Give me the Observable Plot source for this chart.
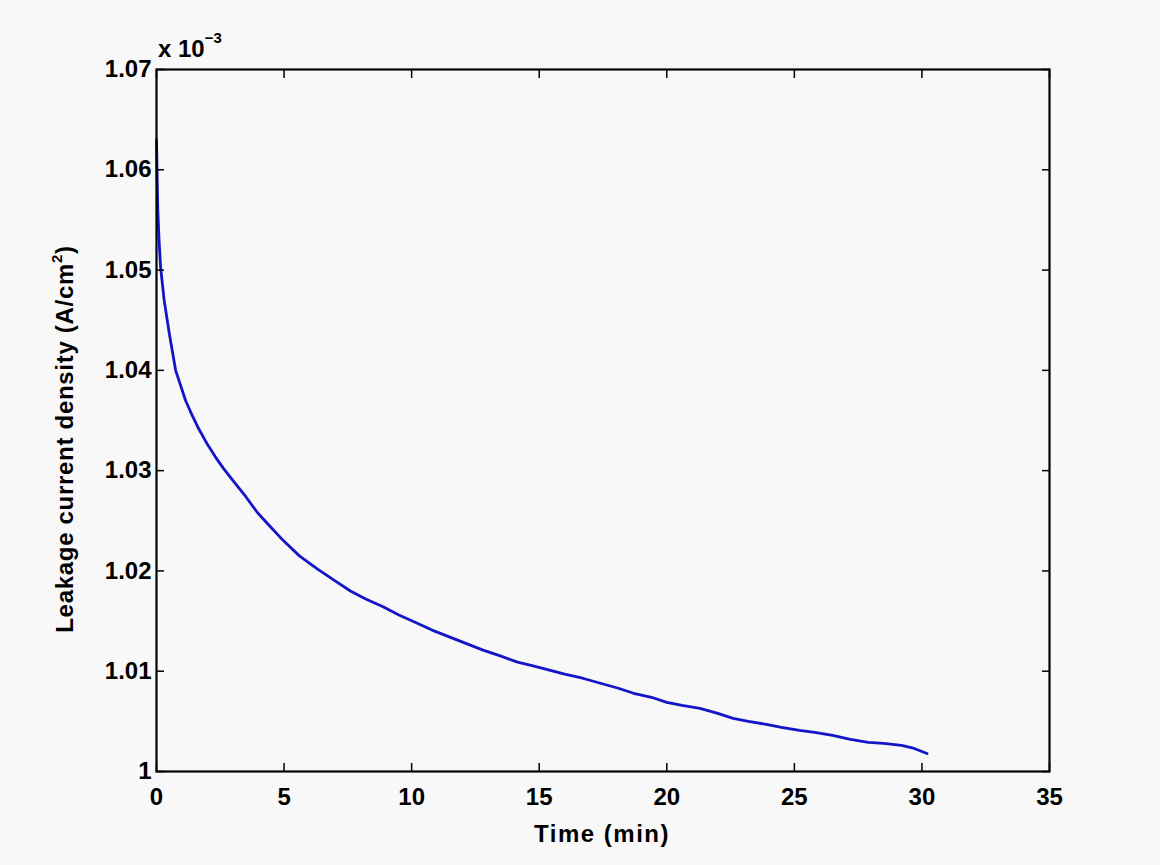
<!DOCTYPE html>
<html>
<head>
<meta charset="utf-8">
<script src="https://cdn.jsdelivr.net/npm/d3@7"></script>
<script src="https://cdn.jsdelivr.net/npm/@observablehq/plot@0.6"></script>
<style>
  html, body { margin: 0; padding: 0; background: #f8f8f8; }
  #chart { width: 1160px; height: 865px; }
</style>
</head>
<body>
<div id="chart"></div>
<script>
// Time (min)
const timeMin = [0, 0.02, 0.05, 0.1, 0.16, 0.3, 0.5, 0.75, 1.14, 1.4, 1.65, 2.0, 2.3, 2.63, 3.0, 3.5, 3.96, 4.5, 4.98, 5.6, 6.3, 7.0, 7.6, 8.2, 8.9, 9.5, 10.2, 10.8, 11.5, 12.1, 12.8, 13.5, 14.15, 14.8, 15.4, 16.0, 16.7, 17.4, 18.1, 18.7, 19.4, 20.0, 20.6, 21.3, 22.0, 22.6, 23.2, 23.9, 24.5, 25.2, 25.8, 26.5, 27.2, 27.9, 28.5, 29.2, 29.7, 30.2];
// Leakage current density (x 10^-3 A/cm^2)
const density = [1.0630, 1.0600, 1.0560, 1.0530, 1.0503, 1.0470, 1.0437, 1.0400, 1.0370, 1.0355, 1.0342, 1.0326, 1.0314, 1.0302, 1.0290, 1.0274, 1.0258, 1.0243, 1.0230, 1.0215, 1.0202, 1.0190, 1.0180, 1.0172, 1.0164, 1.0156, 1.0148, 1.0141, 1.0134, 1.0128, 1.0121, 1.0115, 1.0109, 1.0105, 1.0101, 1.0097, 1.0093, 1.0088, 1.0083, 1.0078, 1.0074, 1.0069, 1.0066, 1.0063, 1.0058, 1.0053, 1.0050, 1.0047, 1.0044, 1.0041, 1.0039, 1.0036, 1.0032, 1.0029, 1.0028, 1.0026, 1.0023, 1.0018];
const xTicks = [0, 5, 10, 15, 20, 25, 30, 35];
const yTicks = [1.00, 1.01, 1.02, 1.03, 1.04, 1.05, 1.06, 1.07];

const data = timeMin.map((t, i) => ({t, v: density[i]}));
const yFmt = d => d === 1 ? "1" : d.toFixed(2);
const tickFont = 24;

const plot = Plot.plot({
  width: 1160,
  height: 865,
  marginLeft: 156,
  marginRight: 111,
  marginTop: 69,
  marginBottom: 94,
  style: {
    background: "#f8f8f8",
    fontFamily: "'Liberation Sans', Arial, sans-serif",
    fontWeight: "bold",
    color: "#000"
  },
  x: {domain: [0, 35]},
  y: {domain: [1.0, 1.07]},
  marks: [
    Plot.line(data, {x: "t", y: "v", stroke: "#1414c8", strokeWidth: 2.8}),
    Plot.axisX({anchor: "bottom", ticks: xTicks, tickSize: -8, tickPadding: 24, fontSize: tickFont, label: null, stroke: "#000", strokeWidth: 1.5}),
    Plot.axisX({anchor: "top", ticks: xTicks, tickSize: -8, tickFormat: () => "", label: null, stroke: "#000", strokeWidth: 1.5}),
    Plot.axisY({anchor: "left", ticks: yTicks, tickSize: -8, tickPadding: 13, fontSize: tickFont, tickFormat: yFmt, label: null, stroke: "#000", strokeWidth: 1.5}),
    Plot.axisY({anchor: "right", ticks: yTicks, tickSize: -8, tickFormat: () => "", label: null, stroke: "#000", strokeWidth: 1.5}),
    Plot.frame({stroke: "#000", strokeWidth: 2.2})
  ]
});

document.getElementById("chart").appendChild(plot);

const svg = d3.select(plot);
const font = "'Liberation Sans', Arial, sans-serif";

// x-axis title
svg.append("text")
  .attr("x", 602).attr("y", 842)
  .attr("text-anchor", "middle")
  .attr("font-family", font).attr("font-weight", "bold").attr("font-size", 24)
  .attr("letter-spacing", 1.5)
  .text("Time (min)");

// y-axis title with superscript
const yl = svg.append("text")
  .attr("transform", "translate(73,439) rotate(-90)")
  .attr("text-anchor", "middle")
  .attr("font-family", font).attr("font-weight", "bold").attr("font-size", 24)
  .attr("letter-spacing", 0.7);
yl.append("tspan").text("Leakage current density (A/cm");
yl.append("tspan").attr("font-size", 15).attr("dy", -11).text("2");
yl.append("tspan").attr("dy", 11).text(")");

// exponent note
const ex = svg.append("text")
  .attr("x", 158).attr("y", 57)
  .attr("text-anchor", "start")
  .attr("font-family", font).attr("font-weight", "bold").attr("font-size", 24);
ex.append("tspan").text("x 10");
ex.append("tspan").attr("font-size", 15).attr("dy", -14).text("−3");
</script>
</body>
</html>
